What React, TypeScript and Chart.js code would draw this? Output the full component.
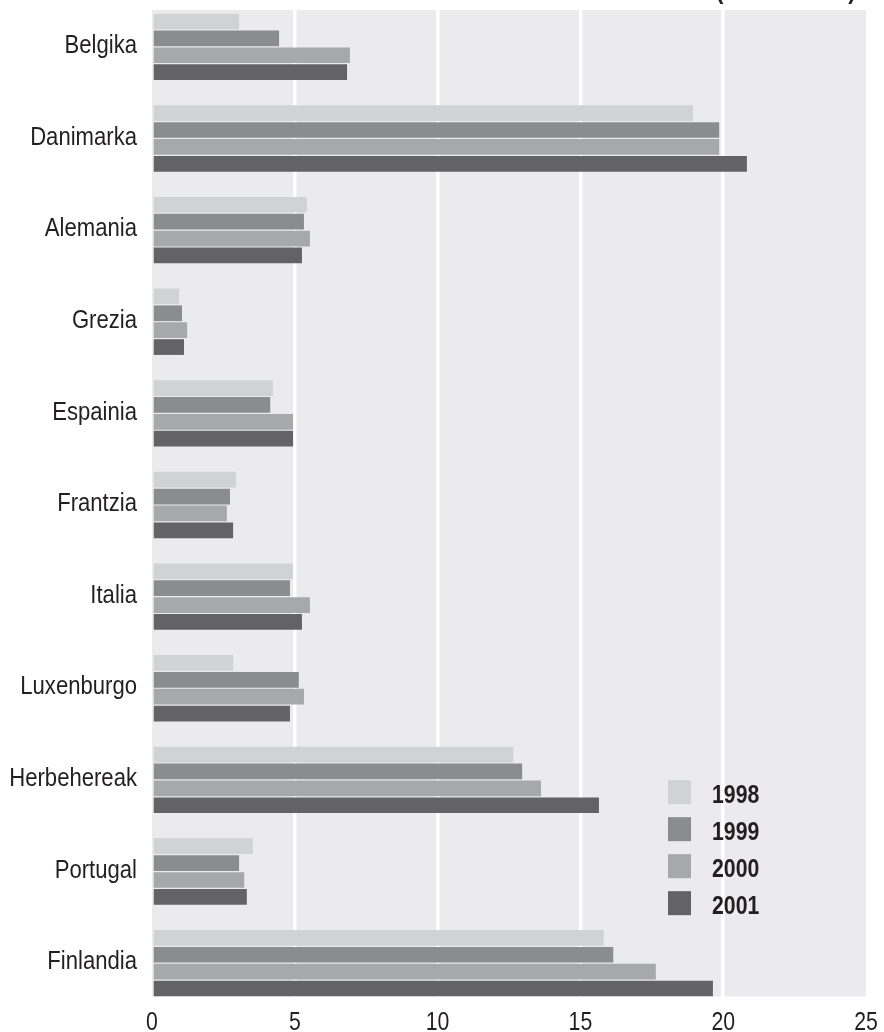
import React, { useEffect, useRef } from 'react';
import { Chart, registerables } from 'chart.js';

Chart.register(...registerables);

const categories = ['Belgika', 'Danimarka', 'Alemania', 'Grezia', 'Espainia', 'Frantzia', 'Italia', 'Luxenburgo', 'Herbehereak', 'Portugal', 'Finlandia'];
const years = ['1998', '1999', '2000', '2001'];
const v1998 = [3.05, 18.94, 5.42, 0.95, 4.23, 2.94, 4.94, 2.84, 12.65, 3.53, 15.82];
const v1999 = [4.45, 19.86, 5.32, 1.05, 4.14, 2.73, 4.83, 5.14, 12.96, 3.05, 16.15];
const v2000 = [6.93, 19.86, 5.53, 1.23, 4.94, 2.62, 5.53, 5.32, 13.62, 3.23, 17.64];
const v2001 = [6.83, 20.83, 5.25, 1.12, 4.94, 2.84, 5.25, 4.83, 15.65, 3.32, 19.64];
const xTicks = [0, 5, 10, 15, 20, 25];
const colors = ['#d1d2d4', '#8b8c90', '#a7a8ab', '#636366'];

const FONT = "'Liberation Sans', Arial, sans-serif";
const TEXT = '#231f20';
const SQUEEZE = 0.85;

function narrowText(ctx: CanvasRenderingContext2D, text: string, x: number, y: number, font: string, align: CanvasTextAlign, baseline: CanvasTextBaseline) {
  ctx.save();
  ctx.translate(x, y);
  ctx.scale(SQUEEZE, 1);
  ctx.font = font;
  ctx.fillStyle = TEXT;
  ctx.textAlign = align;
  ctx.textBaseline = baseline;
  ctx.fillText(text, 0, 0);
  ctx.restore();
}

export default function App() {
  const ref = useRef<HTMLCanvasElement>(null);

  useEffect(() => {
    if (!ref.current) return;
    const bgPlugin = {
      id: 'bgPanel',
      beforeDraw(chart: any) {
        const { ctx, chartArea: a } = chart;
        ctx.save();
        ctx.fillStyle = '#ebebed';
        const top = a.top + 9;
        const bottom = a.bottom - 12.5;
        ctx.fillRect(a.left, top, a.right - a.left, bottom - top);
        ctx.restore();
      },
    };
    const textPlugin = {
      id: 'narrowLabels',
      afterDraw(chart: any) {
        const { ctx, chartArea: a } = chart;
        const ys = chart.scales.y;
        const xs = chart.scales.x;
        const w = a.right - a.left;
        const h = a.bottom - a.top;
        // truncated title (only the lower tips of the brackets remain visible)
        narrowText(ctx, '(', a.left + w * 0.79, -1.5, `bold 26px ${FONT}`, 'left', 'alphabetic');
        narrowText(ctx, ')', a.left + w * 0.975, -1.5, `bold 26px ${FONT}`, 'left', 'alphabetic');
        // category labels
        (chart.data.labels as string[]).forEach((lab, i) => {
          narrowText(ctx, lab, a.left - 15, ys.getPixelForTick(i) - 1, `26px ${FONT}`, 'right', 'middle');
        });
        // value axis labels
        xTicks.forEach((v) => {
          narrowText(ctx, String(v), xs.getPixelForValue(v), a.bottom + 21, `25px ${FONT}`, 'center', 'alphabetic');
        });
        // legend
        const bx = a.left + w * 0.7227;
        const by = a.top + h * 0.773;
        const step = h * 0.0367;
        chart.data.datasets.forEach((ds: any, i: number) => {
          const y = by + i * step;
          ctx.save();
          ctx.fillStyle = ds.backgroundColor;
          ctx.fillRect(bx, y, 23, 24);
          ctx.restore();
          narrowText(ctx, ds.label, bx + 44, y + 23, `bold 25px ${FONT}`, 'left', 'alphabetic');
        });
      },
    };

    const chart = new Chart(ref.current, {
      type: 'bar',
      data: {
        labels: categories,
        datasets: [v1998, v1999, v2000, v2001].map((d, i) => ({
          label: years[i],
          data: d,
          backgroundColor: colors[i],
          barPercentage: 0.93,
          categoryPercentage: 0.737,
        })),
      },
      options: {
        indexAxis: 'y',
        responsive: false,
        animation: false,
        layout: { padding: { left: 0, right: 18, top: 1, bottom: 0 } },
        plugins: { legend: { display: false }, tooltip: { enabled: false }, title: { display: false } },
        scales: {
          x: {
            min: 0,
            max: 25,
            afterBuildTicks(s: any) {
              s.ticks = xTicks.map((v) => ({ value: v }));
            },
            afterFit(s: any) {
              s.height = 23;
              s.paddingLeft = 0;
              s.paddingRight = 0;
              s.paddingTop = 0;
              s.paddingBottom = 0;
            },
            border: { display: false },
            grid: {
              drawTicks: false,
              lineWidth: 3.5,
              color: (c: any) => (c.tick && (c.tick.value === 0 || c.tick.value === 25) ? 'rgba(0,0,0,0)' : '#ffffff'),
            },
            ticks: { display: false },
          },
          y: {
            afterFit(s: any) {
              s.width = 152;
              s.paddingLeft = 0;
              s.paddingRight = 0;
              s.paddingTop = 0;
              s.paddingBottom = 0;
            },
            border: { display: false },
            grid: { display: false, drawTicks: false },
            ticks: { display: false },
          },
        },
      },
      plugins: [bgPlugin, textPlugin],
    });
    return () => chart.destroy();
  }, []);

  return (
    <div style={{ position: 'absolute', left: 0, top: 0, width: 884, height: 1032, background: '#ffffff' }}>
      <canvas ref={ref} width={884} height={1032} style={{ width: 884, height: 1032, display: 'block' }} />
    </div>
  );
}
